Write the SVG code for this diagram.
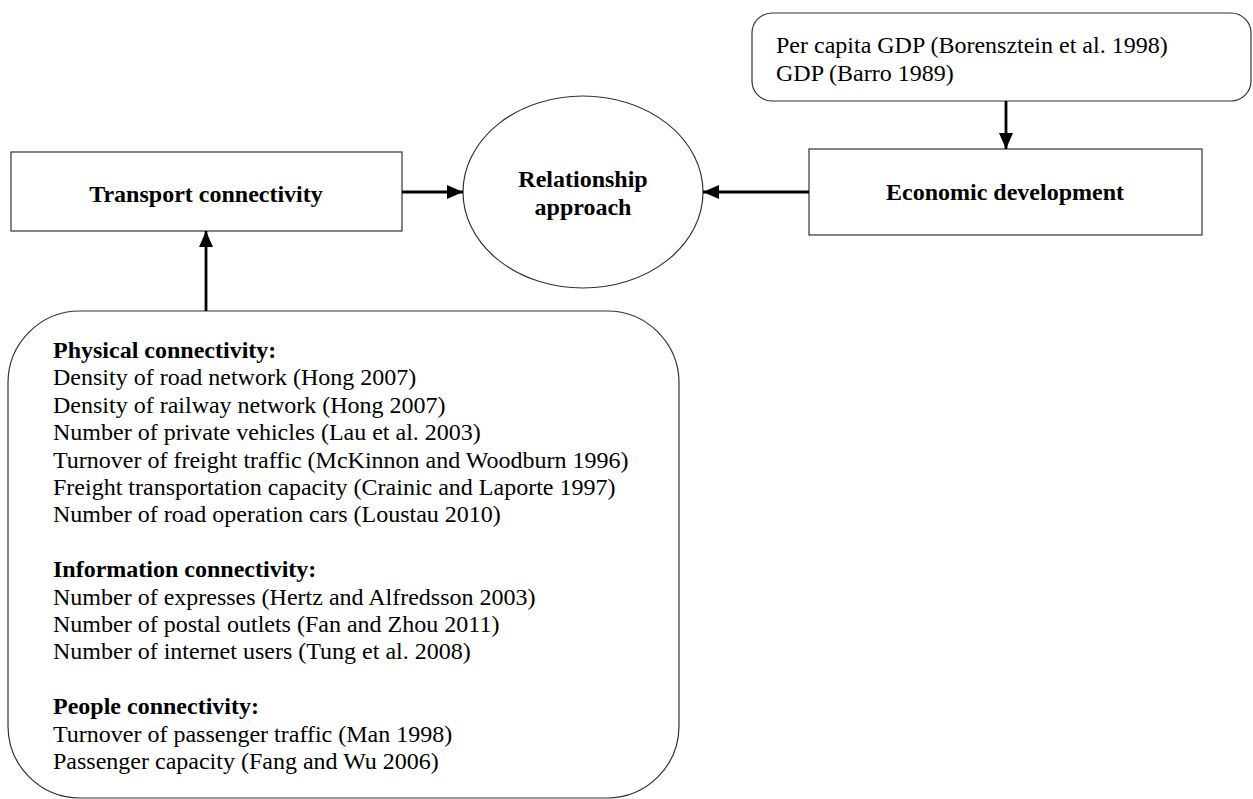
<svg xmlns="http://www.w3.org/2000/svg" width="1253" height="799" viewBox="0 0 1253 799">
<style>
.box{fill:#fff;stroke:#333;stroke-width:1.2}
.t{font-family:"Liberation Serif","Times New Roman",serif;font-size:24px;fill:#000}
.b{font-weight:bold}
.c{stroke:#000;stroke-width:2.8;fill:none}
</style>
<defs>
<marker id="ah" markerUnits="userSpaceOnUse" markerWidth="16" markerHeight="16" viewBox="0 0 16 16" refX="16" refY="8" orient="auto">
<path d="M0,1 L16,8 L0,15 Z" fill="#000"/>
</marker>
</defs>
<rect width="1253" height="799" fill="#fff"/>
<g id="gdp-box">
<rect class="box" x="752" y="13" width="499" height="88" rx="20"/>
<text class="t" x="776" y="53">Per capita GDP (Borensztein et al. 1998)</text>
<text class="t" x="776" y="81">GDP (Barro 1989)</text>
</g>
<g id="transport">
<rect class="box" x="11" y="152" width="391" height="79"/>
<text class="t b" x="206" y="202" text-anchor="middle">Transport connectivity</text>
</g>
<g id="relationship">
<ellipse class="box" cx="583" cy="192" rx="120" ry="96"/>
<text class="t b" x="583" y="187" text-anchor="middle">Relationship</text>
<text class="t b" x="583" y="215" text-anchor="middle">approach</text>
</g>
<g id="economic">
<rect class="box" x="809" y="149" width="393" height="86"/>
<text class="t b" x="1005" y="200" text-anchor="middle">Economic development</text>
</g>
<g id="indicators">
<rect class="box" x="8" y="311" width="671" height="487" rx="72"/>
<text class="t b" x="53" y="358">Physical connectivity:</text>
<text class="t" x="53" y="385.4">Density of road network (Hong 2007)</text>
<text class="t" x="53" y="412.8">Density of railway network (Hong 2007)</text>
<text class="t" x="53" y="440.2">Number of private vehicles (Lau et al. 2003)</text>
<text class="t" x="53" y="467.6">Turnover of freight traffic (McKinnon and Woodburn 1996)</text>
<text class="t" x="53" y="495">Freight transportation capacity (Crainic and Laporte 1997)</text>
<text class="t" x="53" y="522.4">Number of road operation cars (Loustau 2010)</text>
<text class="t b" x="53" y="577.2">Information connectivity:</text>
<text class="t" x="53" y="604.6">Number of expresses (Hertz and Alfredsson 2003)</text>
<text class="t" x="53" y="632">Number of postal outlets (Fan and Zhou 2011)</text>
<text class="t" x="53" y="659.4">Number of internet users (Tung et al. 2008)</text>
<text class="t b" x="53" y="714.2">People connectivity:</text>
<text class="t" x="53" y="741.6">Turnover of passenger traffic (Man 1998)</text>
<text class="t" x="53" y="769">Passenger capacity (Fang and Wu 2006)</text>
</g>
<g id="connectors">
<line class="c" x1="402" y1="192" x2="463" y2="192" marker-end="url(#ah)"/>
<line class="c" x1="809" y1="192" x2="703" y2="192" marker-end="url(#ah)"/>
<line class="c" x1="1006" y1="101" x2="1006" y2="149" marker-end="url(#ah)"/>
<line class="c" x1="206" y1="311" x2="206" y2="231" marker-end="url(#ah)"/>
</g>
</svg>
